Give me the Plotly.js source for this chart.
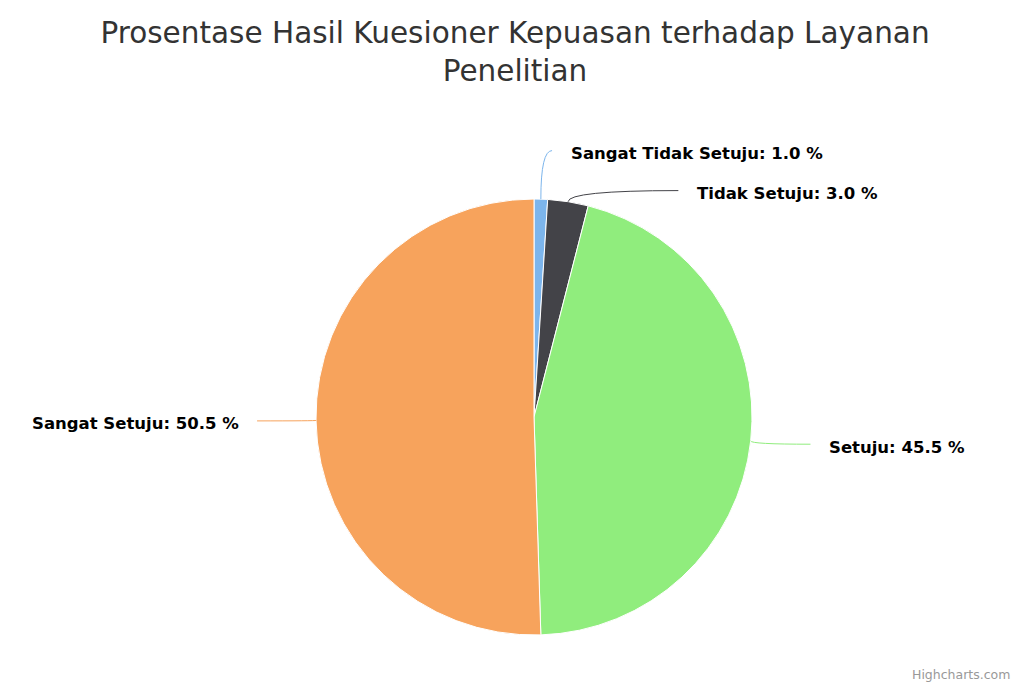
<!DOCTYPE html>
<html>
<head>
<meta charset="utf-8">
<script src="https://cdn.plot.ly/plotly-3.0.1.min.js"></script>
<style>
  html, body { margin: 0; padding: 0; background: #fff; }
  #chart { width: 1030px; height: 687px; }
</style>
</head>
<body>
<div id="chart"></div>
<script>
// data
var categories = ['Sangat Tidak Setuju', 'Tidak Setuju', 'Setuju', 'Sangat Setuju'];
var percents = [1.0, 3.0, 45.5, 50.5];
var colors = ['#7cb5ec', '#434348', '#90ed7d', '#f7a35c'];

var W = 1030, H = 687;
var cx = 534, cy = 417, r = 218;   // pie centre and radius in pixels
var labelDist = 30, labelGap = 40, connR = 277, labelLift = 10;

function toX(px) { return px / W; }
function toY(py) { return 1 - py / H; }

// work out where each outside label sits, from the slice angles
var total = percents.reduce(function (a, b) { return a + b; }, 0);
var cum = 0;
var labels = [];
for (var i = 0; i < percents.length; i++) {
    var mid = (cum + percents[i] / 2) / total * 2 * Math.PI;
    cum += percents[i];
    labels.push({
        i: i,
        right: Math.sin(mid) >= 0,
        px: cx + r * Math.sin(mid),
        py: cy - r * Math.cos(mid),
        ly: cy - (r + labelDist) * Math.cos(mid)
    });
}

// push overlapping labels apart on each side
[true, false].forEach(function (side) {
    var grp = labels.filter(function (l) { return l.right === side; })
        .sort(function (a, b) { return a.ly - b.ly; });
    for (var k = 1; k < grp.length; k++) {
        var gap = grp[k].ly - grp[k - 1].ly;
        if (gap < labelGap) {
            var d = (labelGap - gap) / 2;
            grp[k - 1].ly -= d;
            grp[k].ly += d;
        }
    }
});

var shapes = [], annotations = [];
labels.forEach(function (l) {
    var dy = l.ly - cy - labelLift;
    var dx = Math.abs(dy) < connR ? Math.sqrt(connR * connR - dy * dy) : 10;
    var ex = l.right ? cx + dx : cx - dx;
    shapes.push({
        type: 'path', xref: 'paper', yref: 'paper',
        path: 'M ' + toX(l.px) + ',' + toY(l.py) +
              ' Q ' + toX(l.px) + ',' + toY(l.ly) +
              ' ' + toX(ex) + ',' + toY(l.ly),
        line: { color: colors[l.i], width: 1 }
    });
    annotations.push({
        xref: 'paper', yref: 'paper',
        x: toX(l.right ? ex + 17 : ex - 16), y: toY(l.ly + 3),
        xanchor: l.right ? 'left' : 'right', yanchor: 'middle',
        showarrow: false,
        text: categories[l.i] + ': ' + percents[l.i].toFixed(1) + ' %',
        font: { family: 'DejaVu Sans', size: 16.5, color: '#000000', weight: 'bold' }
    });
});

annotations.push({
    xref: 'paper', yref: 'paper', x: toX(1012), y: toY(674),
    xanchor: 'right', yanchor: 'middle', showarrow: false,
    text: 'Highcharts.com',
    font: { family: 'DejaVu Sans', size: 12.5, color: '#999999' }
});

var trace = {
    type: 'pie',
    labels: categories,
    values: percents,
    sort: false,
    direction: 'clockwise',
    rotation: 0,
    textinfo: 'none',
    hoverinfo: 'label+percent',
    marker: { colors: colors, line: { color: '#ffffff', width: 1 } },
    domain: { x: [toX(cx - r), toX(cx + r)], y: [toY(cy + r), toY(cy - r)] }
};

var layout = {
    width: W, height: H,
    margin: { l: 0, r: 0, t: 0, b: 0 },
    showlegend: false,
    paper_bgcolor: '#ffffff',
    title: {
        text: 'Prosentase Hasil Kuesioner Kepuasan terhadap Layanan<br>Penelitian',
        x: 0.5, xanchor: 'center', y: 1 - 43 / H, yanchor: 'middle', yref: 'container',
        font: { family: 'DejaVu Sans', size: 29.5, color: '#333333' }
    },
    shapes: shapes,
    annotations: annotations
};

Plotly.newPlot('chart', [trace], layout, { displayModeBar: false });
</script>
</body>
</html>
